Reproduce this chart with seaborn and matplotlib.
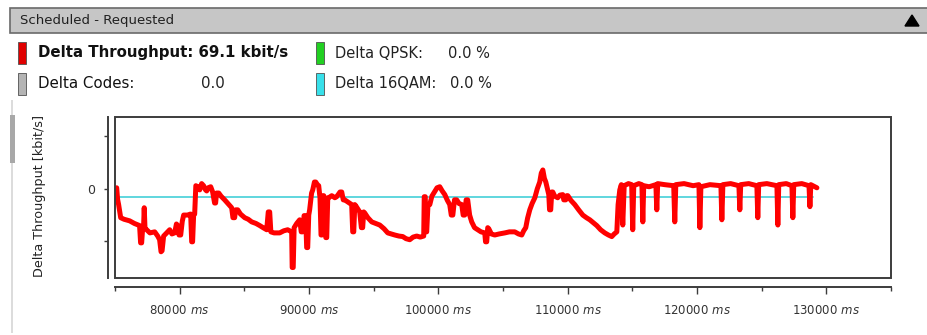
import pandas as pd
import matplotlib
matplotlib.use("Agg")
from matplotlib import pyplot as plt
from matplotlib.patches import Rectangle, Polygon
import seaborn as sns

############### Data ##############################################
time_ms = [75130, 75200, 75280, 75440, 75700, 76130, 76500, 76900, 76980, 77060,
           77140, 77210, 77260, 77320, 77450, 77700, 78070, 78300, 78450, 78560,
           78640, 78760, 79000, 79230, 79400, 79610, 79750, 79850, 79950, 80080,
           80200, 80310, 80600, 80850, 80930, 81000, 81080, 81160, 81250, 81400,
           81550, 81700, 81850, 82000, 82090, 82200, 82400, 82550, 82700, 82780,
           82850, 83020, 83200, 83480, 83700, 84020, 84120, 84250, 84330, 84490,
           84700, 85030, 85300, 85570, 85900, 86190, 86450, 86730, 86850, 86960,
           87050, 87300, 87730, 88050, 88350, 88660, 88700, 88780, 88850, 89050,
           89280, 89400, 89510, 89620, 89740, 89820, 89900, 89980, 90050, 90200,
           90290, 90420, 90520, 90650, 90750, 90850, 90930, 91000, 91060, 91140,
           91300, 91370, 91450, 91520, 91760, 92000, 92140, 92400, 92530, 92650,
           92760, 93000, 93300, 93380, 93460, 93540, 93610, 93920, 94050, 94150,
           94230, 94310, 94550, 94850, 95150, 95470, 95800, 96090, 96350, 96630,
           96950, 97250, 97500, 97790, 98050, 98330, 98600, 98870, 98910, 98990,
           99050, 99100, 99200, 99340, 99500, 99650, 99900, 100110, 100300, 100500,
           100700, 100880, 101000, 101120, 101250, 101420, 101600, 101810, 101920, 102040,
           102150, 102270, 102420, 102580, 102800, 103050, 103300, 103590, 103650, 103740,
           103820, 103900, 104100, 104360, 104700, 105140, 105500, 105910, 106200, 106450,
           106600, 106760, 106900, 107070, 107250, 107460, 107650, 107840, 107960, 108080,
           108200, 108310, 108430, 108540, 108600, 108690, 108770, 108850, 109000, 109230,
           109400, 109620, 109700, 109850, 109930, 110010, 110250, 110550, 110850, 111170,
           111450, 111710, 112000, 112250, 112550, 112870, 113150, 113410, 113600, 113800,
           113900, 114030, 114150, 114260, 114370, 114700, 114950, 115030, 115110, 115500,
           115740, 115810, 115880, 116300, 116820, 116890, 116960, 117500, 118200, 118280,
           118360, 119000, 119700, 120150, 120220, 120300, 121000, 121850, 121920, 122000,
           122600, 123240, 123310, 123380, 124000, 124630, 124700, 124770, 125400, 126180,
           126250, 126320, 126900, 127340, 127410, 127480, 128100, 128660, 128730, 128800,
           129270]
delta_kbit = [2, -20, -30, -55, -58, -61, -66, -70, -103, -103,
              -74, -72, -36, -76, -78, -84, -82, -90, -97, -120,
              -118, -90, -84, -78, -86, -84, -67, -70, -88, -88,
              -62, -50, -50, -48, -101, -101, -50, -48, 6, 4,
              -2, 10, 6, -2, -4, 2, 4, -6, -27, -27,
              -8, -8, -14, -21, -27, -36, -55, -55, -40, -40,
              -48, -55, -58, -63, -66, -70, -74, -78, -44, -44,
              -82, -84, -84, -80, -78, -82, -150, -150, -74, -66,
              -59, -82, -82, -51, -51, -112, -112, -50, -40, -8,
              -2, 13, 13, 8, 6, -17, -88, -88, -13, -13,
              -93, -93, -17, -17, -13, -17, -15, -6, -6, -21,
              -21, -25, -30, -82, -82, -30, -32, -44, -74, -74,
              -44, -46, -55, -63, -66, -69, -76, -84, -86, -88,
              -90, -91, -95, -97, -92, -90, -92, -90, -15, -15,
              -82, -82, -30, -30, -14, -8, 2, 4, -4, -11,
              -22, -30, -50, -50, -21, -21, -28, -30, -50, -50,
              -21, -21, -50, -63, -74, -78, -82, -84, -101, -101,
              -74, -76, -86, -88, -86, -84, -82, -82, -86, -88,
              -80, -74, -56, -40, -28, -17, 0, 13, 30, 36,
              20, 13, 0, -11, -40, -40, -6, -6, -14, -17,
              -12, -11, -21, -21, -13, -13, -22, -30, -40, -50,
              -55, -59, -65, -70, -78, -84, -88, -91, -86, -82,
              -30, -2, 8, -69, 6, 10, 8, -78, 6, 10,
              8, -63, 6, 4, 8, -40, 10, 8, 6, -63,
              8, 10, 6, 8, -74, 4, 8, 6, -59, 8,
              10, 6, -40, 8, 10, 6, -55, 8, 10, 6,
              -69, 8, 10, 6, -55, 8, 10, 6, -34, 8,
              2]

qam_time = [75130, 129000]
qam_delta = [-16, -16]

x_major = [80000, 90000, 100000, 110000, 120000, 130000]
x_minor = [75000, 85000, 95000, 105000, 115000, 125000, 135000]
y_ticks = [-100, 0, 100]
y_ticklabels = ["", "0", ""]

header_title = "Scheduled - Requested"
legend_rows = [
    ("Delta Throughput: 69.1 kbit/s", "", "#e00000", True),
    ("Delta Codes:", "0.0", "#b4b4b4", False),
]
legend_rows2 = [
    ("Delta QPSK:", "0.0 %", "#22d022"),
    ("Delta 16QAM:", "0.0 %", "#38e0ea"),
]

df = pd.DataFrame({"time": time_ms, "delta": delta_kbit})
df_qam = pd.DataFrame({"time": qam_time, "delta": qam_delta})

############### Plotting #############################
sns.set_style("ticks")
plt.rcParams["font.family"] = ["DejaVu Sans"]

W, H = 928, 335
fig = plt.figure(figsize=(W / 100, H / 100), dpi=100)
fig.patch.set_facecolor("white")


def fx(px):
    return px / W


def fy(py):
    return 1 - py / H


# header bar
fig.patches.append(Rectangle((fx(10), fy(33)), fx(918), 25 / H, transform=fig.transFigure,
                             fc="#c6c6c6", ec="#6a6a6a", lw=1.2))
fig.text(fx(20), fy(20.5), header_title, fontsize=9.5, color="#202020", va="center")
fig.patches.append(Polygon([[fx(905), fy(26)], [fx(919), fy(26)], [fx(912), fy(15)]],
                           closed=True, transform=fig.transFigure, fc="black", ec="black"))

# left side border + scroll marker
fig.patches.append(Rectangle((fx(11), fy(333)), fx(2), 233 / H, transform=fig.transFigure,
                             fc="#dcdcdc", ec="none"))
fig.patches.append(Rectangle((fx(10), fy(163)), fx(5), 48 / H, transform=fig.transFigure,
                             fc="#a8a8a8", ec="none"))

# legend
row_y = [53, 84]
for (label, value, col, bold), yy in zip(legend_rows, row_y):
    fig.patches.append(Rectangle((fx(18), fy(yy + 11)), fx(8), 22 / H, transform=fig.transFigure,
                                 fc=col, ec="#505050", lw=0.6))
    fig.text(fx(38), fy(yy), label, fontsize=10.8, va="center", color="#111111",
             fontweight="bold" if bold else "normal")
    if value:
        fig.text(fx(201), fy(yy), value, fontsize=10.8, va="center", color="#222222")
for (label, value, col), yy, vx in zip(legend_rows2, row_y, [448, 450]):
    fig.patches.append(Rectangle((fx(316), fy(yy + 11)), fx(8), 22 / H, transform=fig.transFigure,
                                 fc=col, ec="#505050", lw=0.6))
    fig.text(fx(335), fy(yy), label, fontsize=10.5, va="center", color="#222222")
    fig.text(fx(vx), fy(yy), value, fontsize=10.5, va="center", color="#222222")

# chart
ax = fig.add_axes([fx(115), fy(278), (891 - 115) / W, (278 - 117) / H])
sns.lineplot(data=df_qam, x="time", y="delta", color="#5fd6de", lw=1.4,
             estimator=None, sort=False, ax=ax)
sns.lineplot(data=df, x="time", y="delta", color="#ff0000", lw=3.6,
             estimator=None, sort=False, ax=ax)

ax.set_xlim(75000, 135000)
ax.set_ylim(-170, 137)

ax.add_patch(Rectangle((0, 0), 1, 1, transform=ax.transAxes, fill=False,
                       ec="#3c3c3c", lw=1.4, clip_on=False, zorder=5))
for side in ["top", "right"]:
    ax.spines[side].set_visible(False)
ax.spines["left"].set_position(("outward", 5))
ax.spines["bottom"].set_position(("outward", 6.5))
for side in ["left", "bottom"]:
    ax.spines[side].set_color("#3c3c3c")
    ax.spines[side].set_linewidth(1.4)

ax.set_yticks(y_ticks)
ax.set_yticklabels(y_ticklabels)
ax.set_xticks(x_major)
ax.set_xticks(x_minor, minor=True)
ax.set_xticklabels([rf"{t} $\mathit{{ms}}$" for t in x_major])
ax.tick_params(axis="y", length=3, width=1, color="#3c3c3c", labelsize=9, pad=6,
               labelcolor="#333333")
ax.tick_params(axis="x", which="major", length=5, width=1, color="#3c3c3c",
               labelsize=8.5, pad=7, labelcolor="#333333")
ax.tick_params(axis="x", which="minor", length=3, width=1, color="#3c3c3c")

ax.set_xlabel("")
ax.set_ylabel("Delta Throughput [kbit/s]", fontsize=9.2, color="#222222")
ax.yaxis.set_label_coords(-0.089, 0.51)

fig.savefig("out.png", dpi=100)
